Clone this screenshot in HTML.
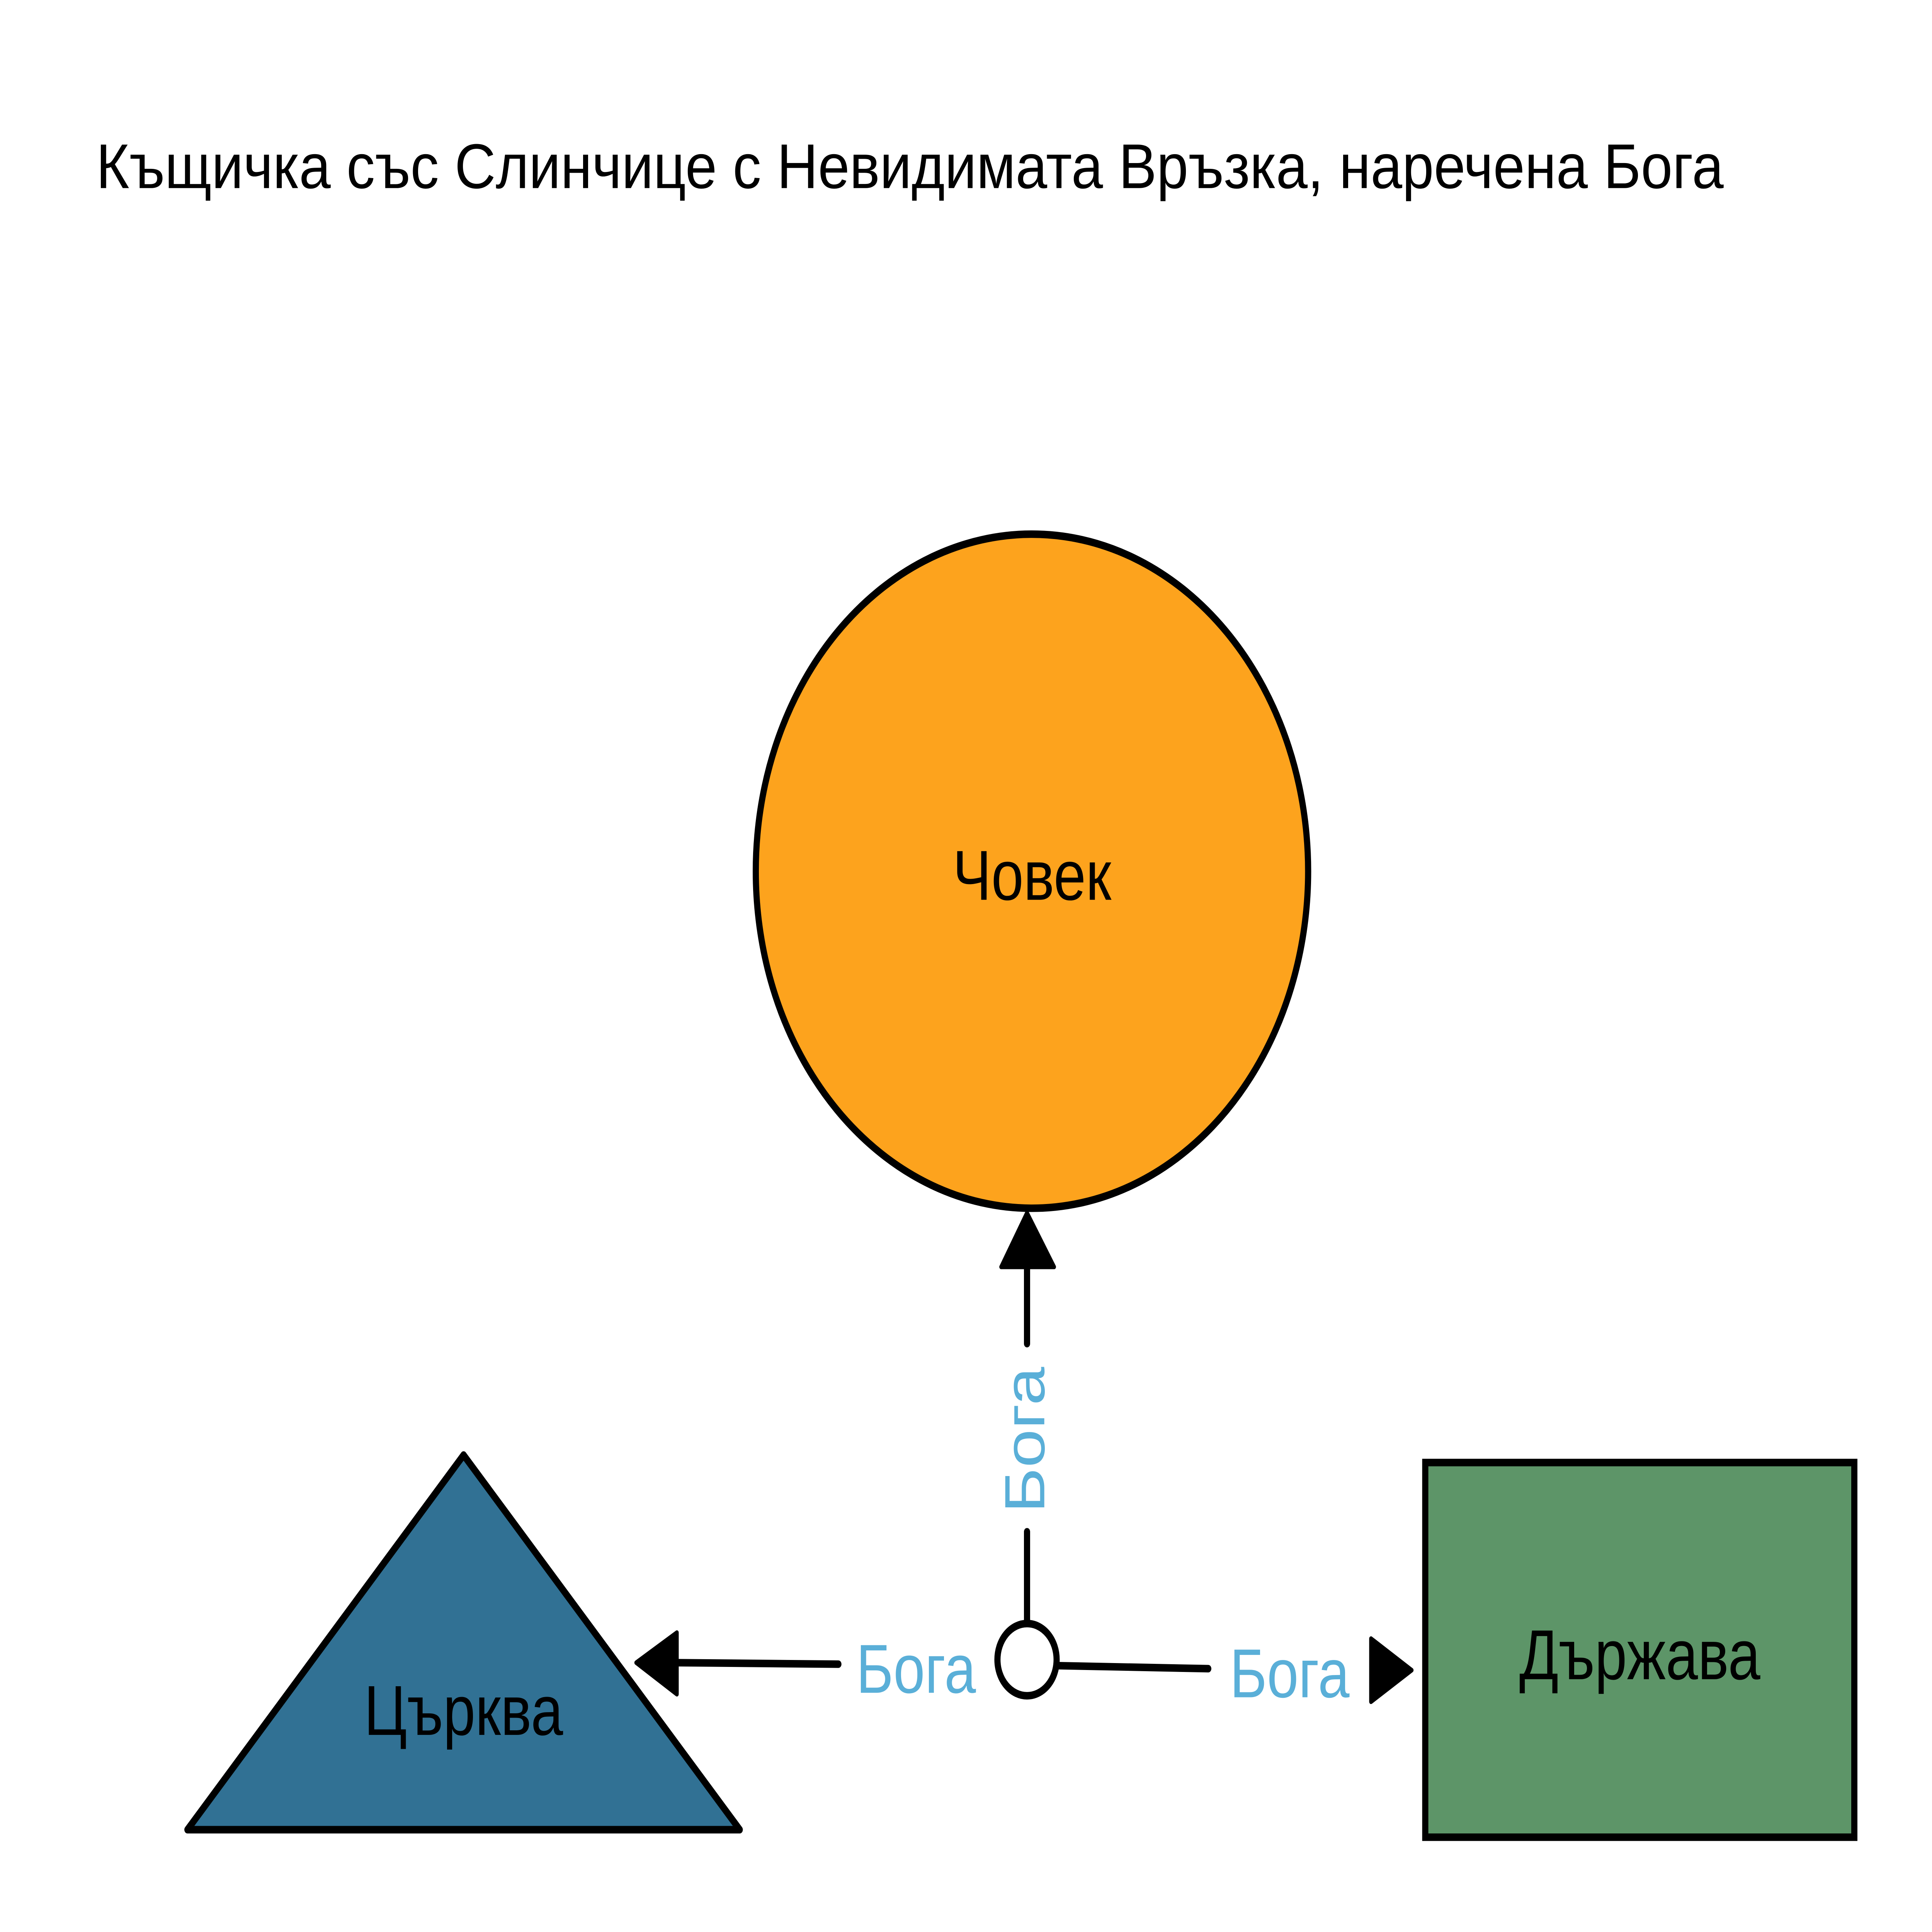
<!DOCTYPE html>
<html><head><meta charset="utf-8"><style>
html,body{margin:0;padding:0;background:#fff;overflow:hidden;width:100%;height:100%;}
svg{display:block;width:100vw;height:100vh;}
text{font-family:"Liberation Sans","DejaVu Sans",sans-serif;}
</style></head><body>
<svg viewBox="0 0 1567 1284" preserveAspectRatio="none" xmlns="http://www.w3.org/2000/svg">
<rect width="1567" height="1284" fill="#fff"/>
<text x="78" y="125" font-size="42" fill="#000" textLength="1320" lengthAdjust="spacingAndGlyphs">Къщичка със Слинчице с Невидимата Връзка, наречена Бога</text>
<circle cx="837" cy="579" r="224" fill="#fda31d" stroke="#000" stroke-width="5"/>
<text x="837" y="598" font-size="47" text-anchor="middle" fill="#000">Човек</text>
<polygon points="152,1216 376,967 600,1216" fill="#317194" stroke="#000" stroke-width="5" stroke-linejoin="round"/>
<text x="376" y="1153" font-size="47" text-anchor="middle" fill="#000">Църква</text>
<rect x="1156" y="972" width="348" height="249" fill="#5d9568" stroke="#000" stroke-width="5"/>
<text x="1330" y="1116" font-size="47" text-anchor="middle" fill="#000">Държава</text>
<g stroke="#000" stroke-width="5" fill="none" stroke-linecap="round">
<line x1="833" y1="1078" x2="833" y2="1018"/>
<line x1="833" y1="893" x2="833" y2="840"/>
<line x1="680" y1="1106" x2="548" y2="1105"/>
<line x1="858" y1="1107" x2="980" y2="1109"/>
</g>
<polygon points="833,806 812,842 855,842" fill="#000" stroke="#000" stroke-width="3" stroke-linejoin="round"/>
<polygon points="516,1105 549,1085 549,1126" fill="#000" stroke="#000" stroke-width="3" stroke-linejoin="round"/>
<polygon points="1145,1110 1112,1089 1112,1131" fill="#000" stroke="#000" stroke-width="3" stroke-linejoin="round"/>
<circle cx="833" cy="1103" r="24" fill="#fff" stroke="#000" stroke-width="5"/>
<text x="0" y="0" font-size="46" fill="#5aafd8" text-anchor="middle" transform="translate(847,957) rotate(-90)">Бога</text>
<text x="743" y="1125" font-size="46" fill="#5aafd8" text-anchor="middle">Бога</text>
<text x="1046" y="1128" font-size="46" fill="#5aafd8" text-anchor="middle">Бога</text>
</svg>
</body></html>
